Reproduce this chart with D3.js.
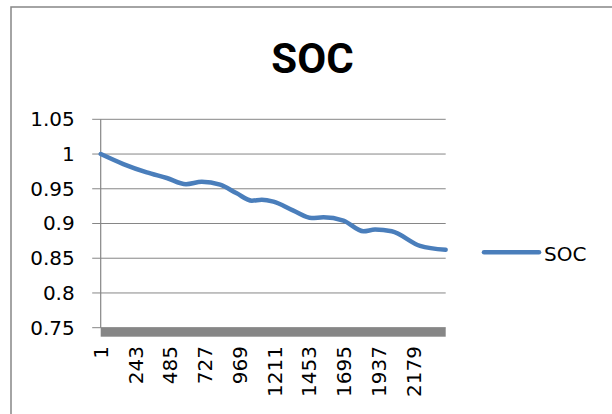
<!DOCTYPE html>
<html>
<head>
<meta charset="utf-8">
<script src="https://cdn.jsdelivr.net/npm/d3@7/dist/d3.min.js"></script>
<style>
  html, body { margin: 0; padding: 0; background: #fff; }
  svg { display: block; }
</style>
</head>
<body>
<script>
// ---- data ----
const categoryCount = 2400;
const xTickLabels = [1, 243, 485, 727, 969, 1211, 1453, 1695, 1937, 2179];
const yTickValues = [0.75, 0.8, 0.85, 0.9, 0.95, 1, 1.05];
const sampleIndex = [1, 158, 321, 460, 594, 704, 831, 947, 1052, 1121, 1202, 1341, 1469, 1550, 1689, 1828, 1909, 2025, 2222, 2400];
const socValues = [1.0, 0.9856, 0.9736, 0.9655, 0.9565, 0.9600, 0.9559, 0.9434, 0.9329, 0.9343, 0.9315, 0.9185, 0.9078, 0.9089, 0.9042, 0.8888, 0.8912, 0.8888, 0.8678, 0.8621];
const seriesName = "SOC";
const chartTitle = "SOC";

const W = 612, H = 414;
const gray = "#868686";
const blue = "#4A7EBB";
const labelFont = "'DejaVu Sans', sans-serif";

const svg = d3.select("body").append("svg").attr("width", W).attr("height", H);

// chart border (cropped at right/bottom)
svg.append("rect").attr("x", 11).attr("y", 7).attr("width", 800).attr("height", 600)
  .attr("fill", "none").attr("stroke", gray).attr("stroke-width", 1.5);

const x = d3.scaleLinear().domain([0.5, categoryCount + 0.5]).range([100.7, 445.7]);
const y = d3.scaleLinear().domain([0.75, 1.05]).range([327.7, 119.3]);

// gridlines + y ticks
const yAxis = d3.axisLeft(y).tickValues(yTickValues).tickSize(0).tickFormat(d3.format("~g"));
const gy = svg.append("g");
gy.selectAll("line.grid").data(yTickValues).enter().append("line")
  .attr("x1", x.range()[0] - 8.5).attr("x2", x.range()[1])
  .attr("y1", d => y(d)).attr("y2", d => y(d))
  .attr("stroke", gray).attr("stroke-width", 1);
const gyl = svg.append("g").attr("transform", `translate(${x.range()[0] - 26},0)`).call(yAxis);
gyl.select(".domain").remove();
gyl.selectAll("text").attr("font-family", labelFont).attr("font-size", 20).attr("fill", "#000").attr("dx", 0).attr("x", 0);

// vertical axis line
svg.append("line").attr("x1", x.range()[0]).attr("x2", x.range()[0])
  .attr("y1", y(1.05)).attr("y2", y(0.75)).attr("stroke", gray).attr("stroke-width", 1.2);

// dense category tick band
svg.append("rect").attr("x", x.range()[0]).attr("y", y(0.75))
  .attr("width", x.range()[1] - x.range()[0]).attr("height", 9).attr("fill", gray);

// x labels
const gx = svg.append("g");
gx.selectAll("text").data(xTickLabels).enter().append("text")
  .attr("transform", d => `translate(${x(d) + 7},346) rotate(-90)`)
  .attr("text-anchor", "end")
  .attr("font-family", labelFont).attr("font-size", 20).attr("fill", "#000")
  .text(d => d);

// line
const pts = sampleIndex.map((d, i) => [d, socValues[i]]);
const line = d3.line().x(d => x(d[0])).y(d => y(d[1])).curve(d3.curveMonotoneX);
svg.append("path").datum(pts).attr("d", line)
  .attr("fill", "none").attr("stroke", blue).attr("stroke-width", 4.5)
  .attr("stroke-linejoin", "round").attr("stroke-linecap", "round");

// title
svg.append("text").attr("x", 312.5).attr("y", 72.7).attr("text-anchor", "middle")
  .attr("font-family", "Roboto, sans-serif").attr("font-weight", "bold").attr("font-size", 42)
  .attr("fill", "#000").text(chartTitle);

// legend
svg.append("line").attr("x1", 484).attr("x2", 539).attr("y1", 252.3).attr("y2", 252.3)
  .attr("stroke", blue).attr("stroke-width", 4.5).attr("stroke-linecap", "round");
svg.append("text").attr("x", 544).attr("y", 260.7)
  .attr("font-family", labelFont).attr("font-size", 20).attr("fill", "#000").text(seriesName);
</script>
</body>
</html>
